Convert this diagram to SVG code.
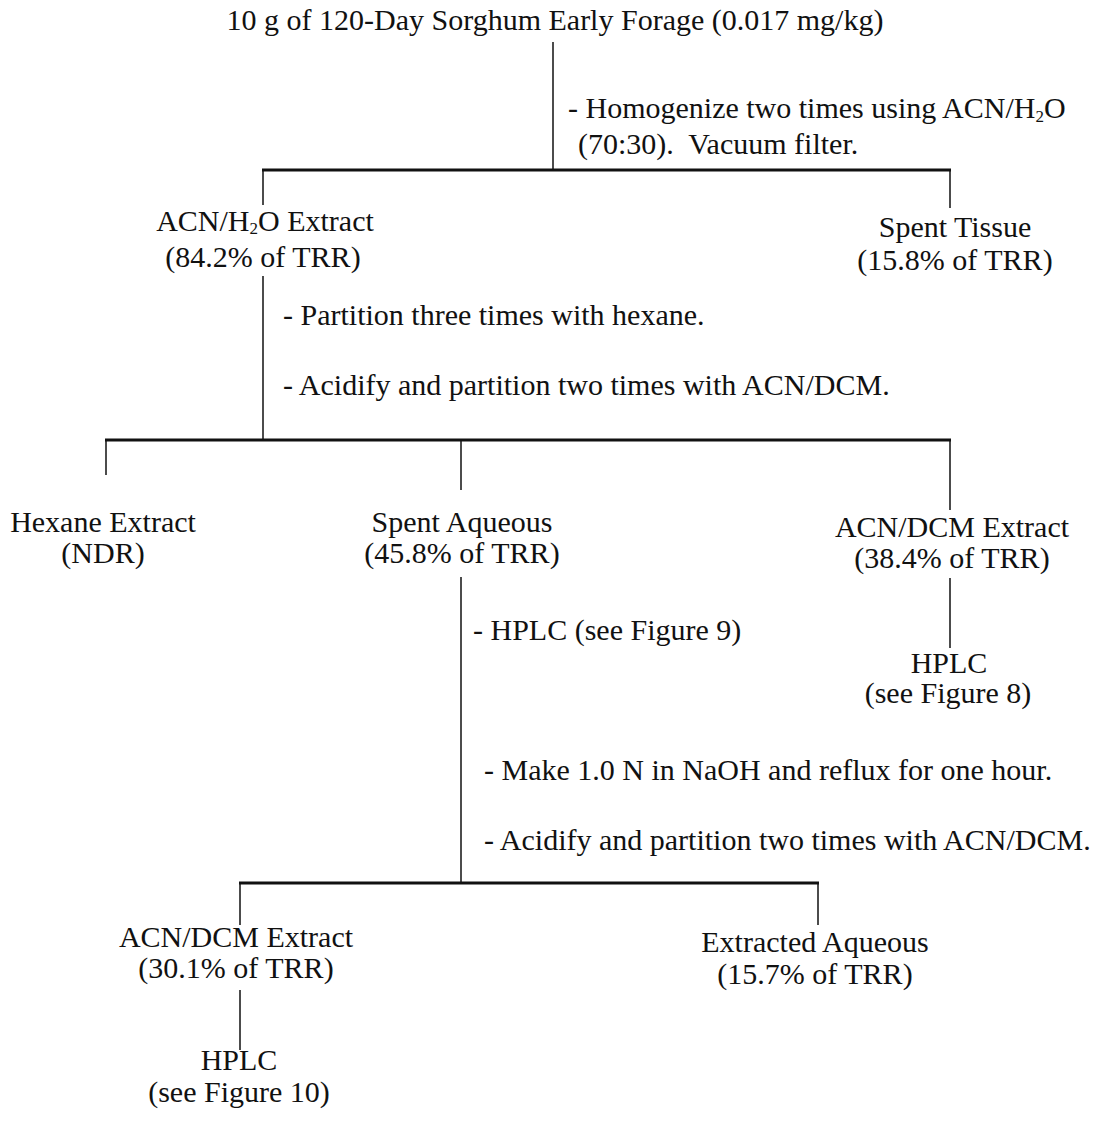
<svg xmlns="http://www.w3.org/2000/svg" width="1094" height="1123" viewBox="0 0 1094 1123">
<style>
text{font-family:"Liberation Serif","Times New Roman",serif;font-size:30px;fill:#111}
.c{text-anchor:middle}
.ln{stroke:#111;stroke-width:1.5;fill:none}
.bar{stroke:#111;stroke-width:3;fill:none}
.sub{font-size:17px}
</style>
<rect width="1094" height="1123" fill="#fff"/>
<g id="connectors">
<line class="ln" x1="553" y1="42" x2="553" y2="170"/>
<line class="bar" x1="262" y1="170" x2="951" y2="170"/>
<line class="ln" x1="263" y1="170" x2="263" y2="205"/>
<line class="ln" x1="950" y1="170" x2="950" y2="208"/>
<line class="ln" x1="263" y1="276" x2="263" y2="440"/>
<line class="bar" x1="105" y1="440" x2="951" y2="440"/>
<line class="ln" x1="106" y1="440" x2="106" y2="475"/>
<line class="ln" x1="461" y1="440" x2="461" y2="490"/>
<line class="ln" x1="950" y1="440" x2="950" y2="510"/>
<line class="ln" x1="461" y1="577" x2="461" y2="883"/>
<line class="ln" x1="950" y1="578" x2="950" y2="648"/>
<line class="bar" x1="239" y1="883" x2="819" y2="883"/>
<line class="ln" x1="240" y1="883" x2="240" y2="925"/>
<line class="ln" x1="818" y1="883" x2="818" y2="925"/>
<line class="ln" x1="240" y1="990" x2="240" y2="1050"/>
</g>
<g id="n-start"><text class="c" x="555" y="30">10 g of 120-Day Sorghum Early Forage (0.017 mg/kg)</text></g>
<g id="step-1"><text x="568" y="118">- Homogenize two times using ACN/H<tspan class="sub" dy="4">2</tspan><tspan dy="-4">O</tspan></text>
<text x="578" y="154" xml:space="preserve">(70:30).  Vacuum filter.</text></g>
<g id="n-acn-h2o"><text class="c" x="265" y="231">ACN/H<tspan class="sub" dy="3">2</tspan><tspan dy="-3">O Extract</tspan></text>
<text class="c" x="263" y="267">(84.2% of TRR)</text></g>
<g id="n-spent-tissue"><text class="c" x="955" y="237">Spent Tissue</text>
<text class="c" x="955" y="270">(15.8% of TRR)</text></g>
<g id="step-2"><text x="283" y="325">- Partition three times with hexane.</text>
<text x="283" y="395">- Acidify and partition two times with ACN/DCM.</text></g>
<g id="n-hexane"><text class="c" x="103" y="532">Hexane Extract</text>
<text class="c" x="103" y="563">(NDR)</text></g>
<g id="n-spent-aq"><text class="c" x="462" y="532">Spent Aqueous</text>
<text class="c" x="462" y="563">(45.8% of TRR)</text></g>
<g id="n-acndcm-1"><text class="c" x="952" y="537">ACN/DCM Extract</text>
<text class="c" x="952" y="568">(38.4% of TRR)</text></g>
<g id="step-3"><text x="473" y="640">- HPLC (see Figure 9)</text></g>
<g id="n-hplc-8"><text class="c" x="949" y="673">HPLC</text>
<text class="c" x="948" y="703">(see Figure 8)</text></g>
<g id="step-4"><text x="484" y="780">- Make 1.0 N in NaOH and reflux for one hour.</text>
<text x="484" y="850">- Acidify and partition two times with ACN/DCM.</text></g>
<g id="n-acndcm-2"><text class="c" x="236" y="947">ACN/DCM Extract</text>
<text class="c" x="236" y="978">(30.1% of TRR)</text></g>
<g id="n-extracted-aq"><text class="c" x="815" y="952">Extracted Aqueous</text>
<text class="c" x="815" y="984">(15.7% of TRR)</text></g>
<g id="n-hplc-10"><text class="c" x="239" y="1070">HPLC</text>
<text class="c" x="239" y="1102">(see Figure 10)</text></g>
</svg>
